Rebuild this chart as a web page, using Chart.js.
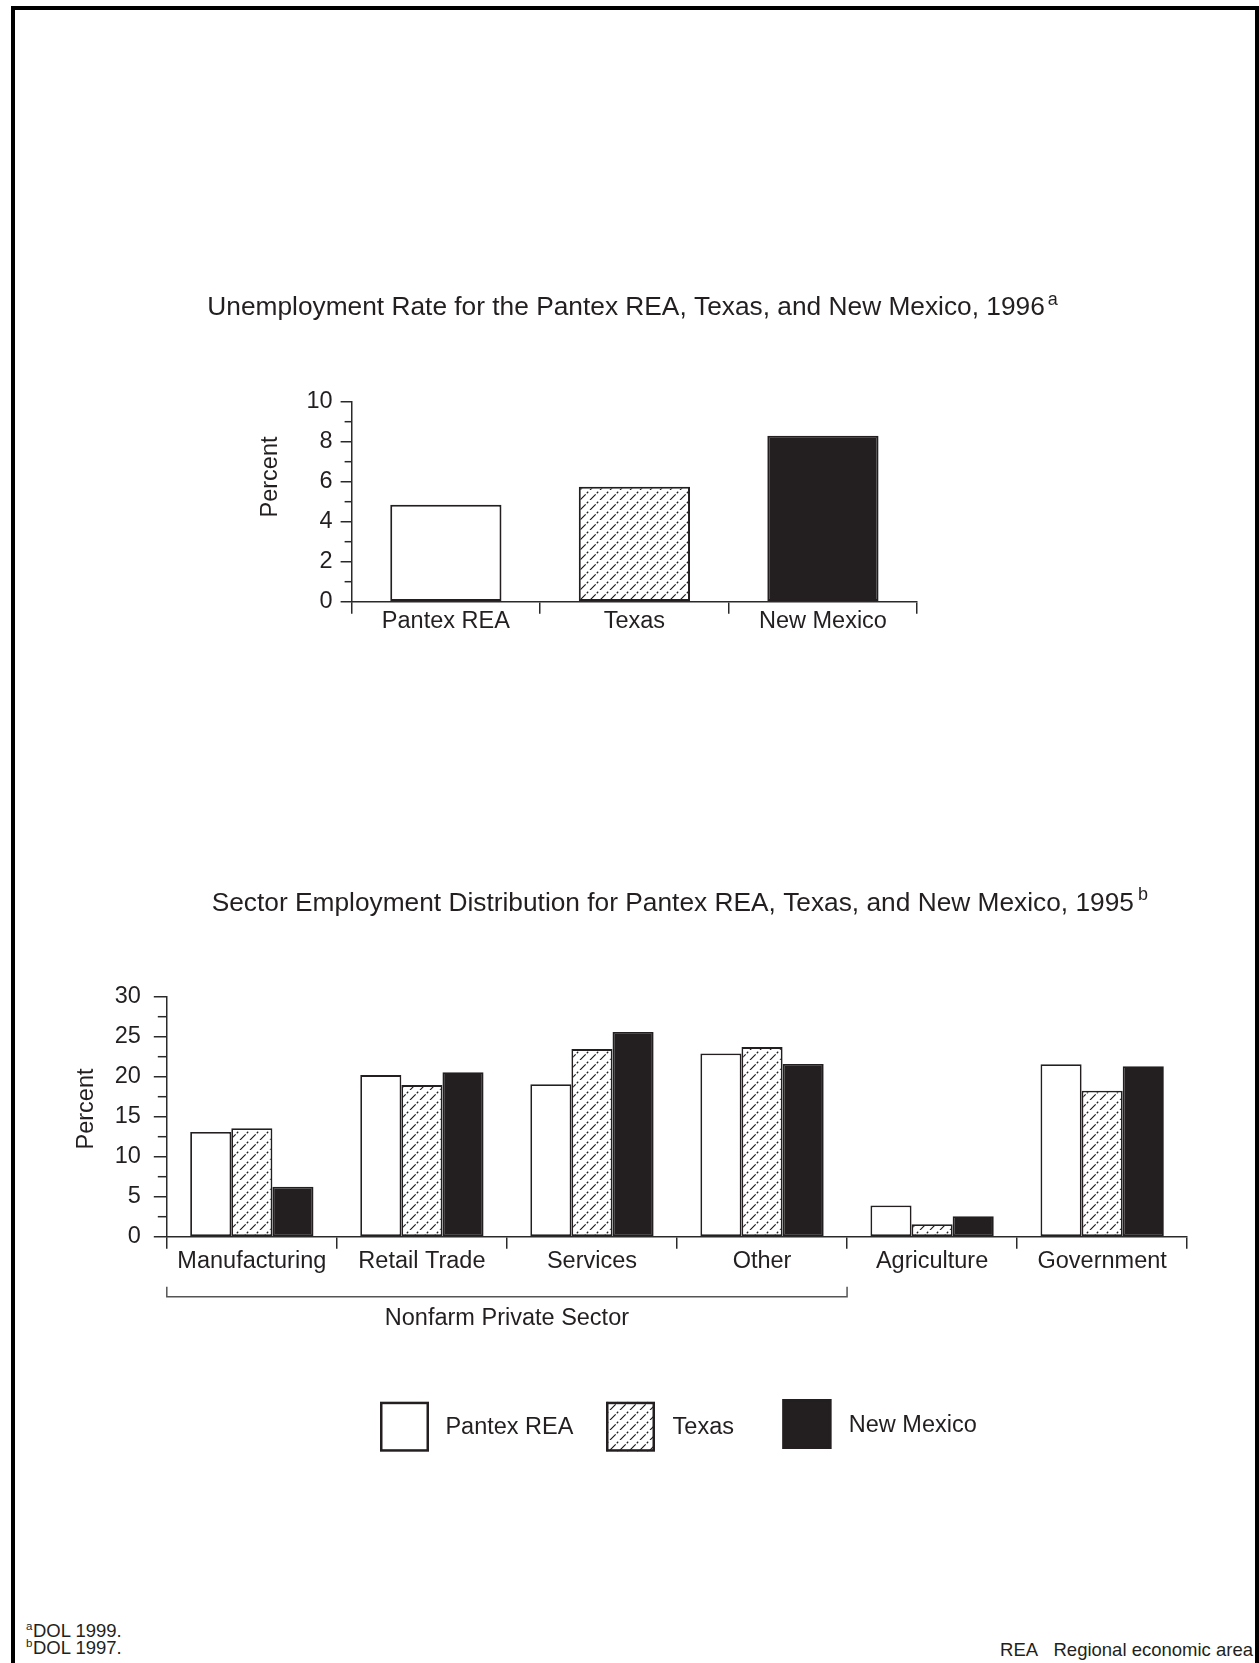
<!DOCTYPE html>
<html>
<head>
<meta charset="utf-8">
<script src="https://cdn.jsdelivr.net/npm/chart.js@4.4.1/dist/chart.umd.min.js"></script>
<style>
html,body{margin:0;padding:0;background:#fff;}
#page{position:relative;width:1259px;height:1663px;overflow:hidden;background:#fff;font-family:'Liberation Sans',Arial,Helvetica,sans-serif;color:#231f20;}
#frame{position:absolute;left:11px;top:6px;width:1240px;height:1700px;border:4px solid #000;border-bottom:none;}
canvas{position:absolute;left:0;}
#c1{top:250px;}
#c2{top:850px;}
.fn{position:absolute;font-size:18.5px;line-height:18.5px;white-space:nowrap;color:#231f20;}
.fn .s{font-size:11.5px;position:relative;top:-7px;margin-right:0.5px;}
</style>
</head>
<body>
<div id="page">
  <div id="frame"></div>
  <canvas id="c1" width="1259" height="410"></canvas>
  <canvas id="c2" width="1259" height="650"></canvas>
  <div class="fn" style="left:26px;top:1622px;"><span class="s">a</span>DOL 1999.</div>
  <div class="fn" style="left:26px;top:1639px;"><span class="s">b</span>DOL 1997.</div>
  <div class="fn" style="right:6px;top:1641px;">REA&nbsp;&nbsp;&nbsp;Regional economic area</div>
</div>
<script>
// ---------- data ----------
const unempCategories = ['Pantex REA', 'Texas', 'New Mexico'];
const unempValues = [4.85, 5.75, 8.3];
const unempYTicks = [0, 2, 4, 6, 8, 10];
const unempYMinorTicks = [1, 3, 5, 7, 9];

const sectorCategories = ['Manufacturing', 'Retail Trade', 'Services', 'Other', 'Agriculture', 'Government'];
const seriesNames = ['Pantex REA', 'Texas', 'New Mexico'];
const pantexValues = [13.1, 20.2, 19.05, 22.9, 3.9, 21.55];
const texasValues = [13.55, 18.95, 23.45, 23.7, 1.55, 18.25];
const newMexicoValues = [6.25, 20.55, 25.6, 21.6, 2.55, 21.3];
const sectorYTicks = [0, 5, 10, 15, 20, 25, 30];
const sectorYMinorTicks = [2.5, 7.5, 12.5, 17.5, 22.5, 27.5];
const bracketLabel = 'Nonfarm Private Sector';
const bracketRange = [0, 3]; // first and last category index under the bracket

// ---------- styles ----------
const FONT = "'Liberation Sans', Arial, Helvetica, sans-serif";
const INK = '#231f20';
const AXIS = '#2a2a2a';

function makeHatch(canvas) {
  const s = 10;
  const t = document.createElement('canvas');
  t.width = s; t.height = s;
  const g = t.getContext('2d');
  g.fillStyle = '#ffffff';
  g.fillRect(0, 0, s, s);
  g.strokeStyle = '#1e1e1e';
  g.lineWidth = 1.2;
  g.setLineDash([8, 1.6, 2, 2.54]);
  for (const off of [-s, 0, s]) {
    g.beginPath();
    g.moveTo(off, s);
    g.lineTo(off + s, 0);
    g.stroke();
  }
  return canvas.getContext('2d').createPattern(t, 'repeat');
}

// ---------- plugins ----------
const supTitle = {
  id: 'supTitle',
  afterDraw(chart, args, o) {
    const ctx = chart.ctx;
    ctx.save();
    ctx.fillStyle = INK;
    ctx.textAlign = 'left';
    ctx.textBaseline = 'alphabetic';
    ctx.font = o.size + 'px ' + FONT;
    ctx.fillText(o.text, o.x, o.y);
    const w = ctx.measureText(o.text).width;
    ctx.font = o.supSize + 'px ' + FONT;
    ctx.fillText(o.sup, o.x + w + o.supGap, o.y - o.supRise);
    ctx.restore();
  }
};

const minorTicks = {
  id: 'minorTicks',
  afterDraw(chart, args, o) {
    const y = chart.scales.y;
    const ctx = chart.ctx;
    ctx.save();
    ctx.strokeStyle = AXIS;
    ctx.lineWidth = 1.5;
    for (const v of o.values) {
      const py = y.getPixelForValue(v);
      ctx.beginPath();
      ctx.moveTo(y.right - o.length, py);
      ctx.lineTo(y.right, py);
      ctx.stroke();
    }
    ctx.restore();
  }
};

const sideLabel = {
  id: 'sideLabel',
  afterDraw(chart, args, o) {
    if (!o.text) return;
    const ctx = chart.ctx;
    ctx.save();
    ctx.fillStyle = INK;
    ctx.font = o.size + 'px ' + FONT;
    ctx.textAlign = 'center';
    ctx.textBaseline = 'middle';
    ctx.translate(o.x, o.y);
    ctx.rotate(-Math.PI / 2);
    ctx.fillText(o.text, 0, 0);
    ctx.restore();
  }
};

const bracket = {
  id: 'bracket',
  afterDraw(chart, args, o) {
    const x = chart.scales.x;
    const ctx = chart.ctx;
    const half = (x.getPixelForValue(1) - x.getPixelForValue(0)) / 2;
    const l = x.getPixelForValue(o.range[0]) - half;
    const r = x.getPixelForValue(o.range[1]) + half;
    const yb = chart.chartArea.bottom + o.drop;
    ctx.save();
    ctx.strokeStyle = '#555';
    ctx.lineWidth = 1.5;
    ctx.beginPath();
    ctx.moveTo(l, yb - o.tick);
    ctx.lineTo(l, yb);
    ctx.lineTo(r, yb);
    ctx.lineTo(r, yb - o.tick);
    ctx.stroke();
    ctx.fillStyle = INK;
    ctx.font = o.size + 'px ' + FONT;
    ctx.textAlign = 'center';
    ctx.textBaseline = 'middle';
    ctx.fillText(o.text, (l + r) / 2, yb + o.labelGap);
    ctx.restore();
  }
};

const boxLegend = {
  id: 'boxLegend',
  afterDraw(chart, args, o) {
    const ctx = chart.ctx;
    ctx.save();
    chart.data.datasets.forEach((ds, i) => {
      const bx = o.boxX[i], by = o.boxY[i], bw = o.boxW, bh = o.boxH;
      ctx.fillStyle = ds.backgroundColor;
      ctx.fillRect(bx, by, bw, bh);
      ctx.strokeStyle = ds.borderColor;
      ctx.lineWidth = 2.5;
      ctx.strokeRect(bx + 1.25, by + 1.25, bw - 2.5, bh - 2.5);
      ctx.fillStyle = INK;
      ctx.font = o.size + 'px ' + FONT;
      ctx.textAlign = 'left';
      ctx.textBaseline = 'middle';
      ctx.fillText(ds.label, o.textX[i], o.textY[i]);
    });
    ctx.restore();
  }
};

// ---------- chart 1 ----------
const c1 = document.getElementById('c1');
const hatch1 = makeHatch(c1);
new Chart(c1, {
  type: 'bar',
  data: {
    labels: unempCategories,
    datasets: [{
      label: 'Unemployment rate',
      data: unempValues,
      backgroundColor: ['#ffffff', hatch1, INK],
      borderColor: INK,
      borderWidth: 2,
      borderSkipped: false,
      barPercentage: 0.59,
      categoryPercentage: 1
    }]
  },
  options: {
    responsive: false,
    animation: false,
    devicePixelRatio: 1,
    layout: { padding: { left: 251.6, right: 341.8, top: 151.7, bottom: 8.3 } },
    plugins: {
      legend: { display: false },
      tooltip: { enabled: false },
      supTitle: { text: 'Unemployment Rate for the Pantex REA, Texas, and New Mexico, 1996', sup: 'a',
                  x: 207.3, y: 65, size: 26.3, supSize: 18, supGap: 3, supRise: 10 },
      minorTicks: { values: unempYMinorTicks, length: 7 },
      sideLabel: { text: 'Percent', x: 271, y: 227, size: 23.5 }
    },
    scales: {
      x: {
        grid: { offset: true, drawOnChartArea: false, tickLength: 12, color: AXIS, lineWidth: 1.5 },
        border: { color: AXIS, width: 1.5 },
        ticks: { color: INK, font: { family: FONT, size: 23.5, lineHeight: 1 }, padding: -4 },
        afterFit(s) { s.height = 50; }
      },
      y: {
        min: 0, max: 10,
        afterBuildTicks(s) { s.ticks = unempYTicks.map(v => ({ value: v })); },
        grid: { drawOnChartArea: false, tickLength: 11, color: AXIS, lineWidth: 1.5 },
        border: { color: AXIS, width: 1.5 },
        ticks: { color: INK, font: { family: FONT, size: 23.5 }, padding: 8 },
        afterFit(s) { s.width = 100; }
      }
    }
  },
  plugins: [supTitle, minorTicks, sideLabel]
});

// ---------- chart 2 ----------
const c2 = document.getElementById('c2');
const hatch2 = makeHatch(c2);
new Chart(c2, {
  type: 'bar',
  data: {
    labels: sectorCategories,
    datasets: [
      { label: seriesNames[0], data: pantexValues, backgroundColor: '#ffffff', borderColor: INK },
      { label: seriesNames[1], data: texasValues, backgroundColor: hatch2, borderColor: INK },
      { label: seriesNames[2], data: newMexicoValues, backgroundColor: INK, borderColor: INK }
    ]
  },
  options: {
    responsive: false,
    animation: false,
    devicePixelRatio: 1,
    datasets: { bar: { borderWidth: 1.8, borderSkipped: false, barPercentage: 1, categoryPercentage: 0.725 } },
    layout: { padding: { left: 66.8, right: 71.8, top: 146.7, bottom: 213.3 } },
    plugins: {
      legend: { display: false },
      tooltip: { enabled: false },
      supTitle: { text: 'Sector Employment Distribution for Pantex REA, Texas, and New Mexico, 1995', sup: 'b',
                  x: 211.7, y: 61, size: 26.3, supSize: 18, supGap: 4, supRise: 11 },
      minorTicks: { values: sectorYMinorTicks, length: 9 },
      sideLabel: { text: 'Percent', x: 87, y: 259, size: 23.5 },
      bracket: { text: bracketLabel, range: bracketRange, drop: 60, tick: 10, labelGap: 21.5, size: 23.5 },
      boxLegend: { boxX: [380, 606, 782.4], boxY: [551.7, 551.7, 549], boxW: 49, boxH: 50,
                   textX: [445.4, 672.6, 848.8], textY: [578, 578, 576], size: 23.5 }
    },
    scales: {
      x: {
        grid: { offset: true, drawOnChartArea: false, tickLength: 12, color: AXIS, lineWidth: 1.5 },
        border: { color: AXIS, width: 1.5 },
        ticks: { color: INK, font: { family: FONT, size: 23.5, lineHeight: 1 }, padding: 1 },
        afterFit(s) { s.height = 50; }
      },
      y: {
        min: 0, max: 30,
        afterBuildTicks(s) { s.ticks = sectorYTicks.map(v => ({ value: v })); },
        grid: { drawOnChartArea: false, tickLength: 13, color: AXIS, lineWidth: 1.5 },
        border: { color: AXIS, width: 1.5 },
        ticks: { color: INK, font: { family: FONT, size: 23.5 }, padding: 13 },
        afterFit(s) { s.width = 100; }
      }
    }
  },
  plugins: [supTitle, minorTicks, sideLabel, bracket, boxLegend]
});
</script>
</body>
</html>
